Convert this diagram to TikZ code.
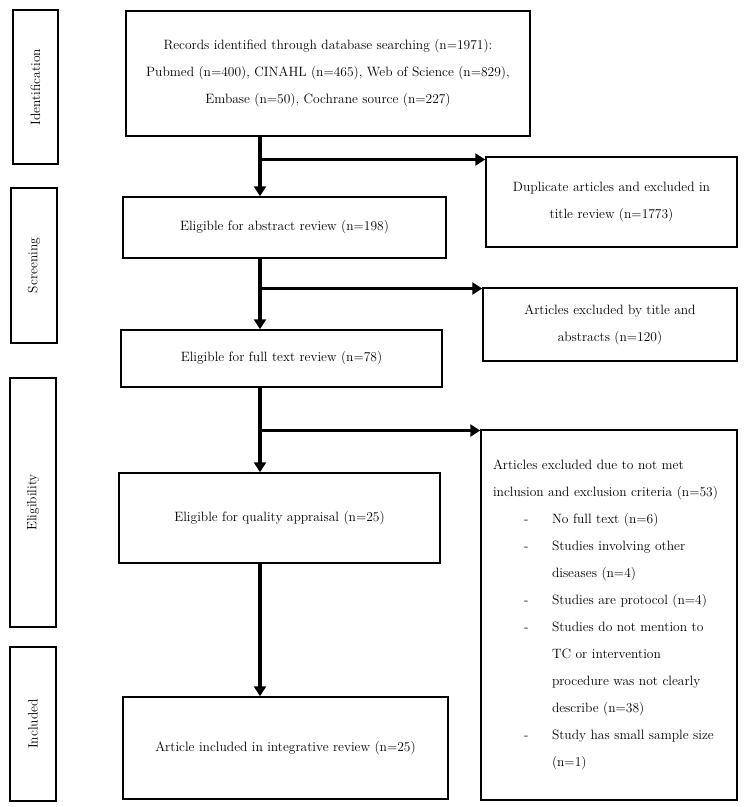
\documentclass[tikz,border=0pt]{standalone}
\usetikzlibrary{arrows.meta}
\begin{document}
\begin{tikzpicture}[x=1pt,y=1pt,
  box/.style={draw=black,line width=1.5pt,rectangle,inner sep=0pt,align=center,
    font=\fontsize{13.5}{27}\selectfont},
  stage/.style={draw=black,line width=1.5pt,rectangle,inner sep=0pt,
    font=\fontsize{13.5}{16}\selectfont},
  arr/.style={line width=3.6pt,-{Triangle[length=10pt,width=12pt]}}]
\useasboundingbox (0,0) rectangle (745,-807);
% stage labels
\node[stage,minimum width=45,minimum height=154] (idS) at (35.5,-87) {\rotatebox{90}{Identification}};
\node[stage,minimum width=46,minimum height=155] (scS) at (34,-265.5) {\rotatebox{90}{Screening}};
\node[stage,minimum width=46,minimum height=249] (elS) at (33,-502.5) {\rotatebox{90}{Eligibility}};
\node[stage,minimum width=46,minimum height=154] (inS) at (33,-724) {\rotatebox{90}{Included}};
% main column
\node[box,minimum width=404,minimum height=125] (rec) at (328,-73.5)
  {Records identified through database searching (n=1971):\\
   Pubmed (n=400), CINAHL (n=465), Web of Science (n=829),\\
   Embase (n=50), Cochrane source (n=227)};
\node[box,minimum width=323,minimum height=61] (abs) at (284.5,-227.5)
  {Eligible for abstract review (n=198)};
\node[box,minimum width=321,minimum height=57] (full) at (281.5,-358.5)
  {Eligible for full text review (n=78)};
\node[box,minimum width=321,minimum height=90] (qual) at (279.5,-518)
  {Eligible for quality appraisal (n=25)};
\node[box,minimum width=325,minimum height=102] (incl) at (285.5,-748)
  {Article included in integrative review (n=25)};
% exclusion column
\node[box,minimum width=251,minimum height=90] (dup) at (611.5,-202)
  {Duplicate articles and excluded in\\ title review (n=1773)};
\node[box,minimum width=254,minimum height=73] (tit) at (610,-324.5)
  {Articles excluded by title and\\ abstracts (n=120)};
\node[box,minimum width=256,minimum height=370,text width=232,inner xsep=12,align=left] (crit) at (609,-615)
  {Articles excluded due to not met\\
   inclusion and exclusion criteria (n=53)\\
   \hspace*{31pt}\makebox[28pt][l]{-}No full text (n=6)\\
   \hspace*{31pt}\makebox[28pt][l]{-}Studies involving other\\
   \hspace*{59pt}diseases (n=4)\\
   \hspace*{31pt}\makebox[28pt][l]{-}Studies are protocol (n=4)\\
   \hspace*{31pt}\makebox[28pt][l]{-}Studies do not mention to\\
   \hspace*{59pt}TC or intervention\\
   \hspace*{59pt}procedure was not clearly\\
   \hspace*{59pt}describe (n=38)\\
   \hspace*{31pt}\makebox[28pt][l]{-}Study has small sample size\\
   \hspace*{59pt}(n=1)};
% spine coordinates
\coordinate (sp) at (260,0);
\coordinate (b1) at (260,-159.5);
\coordinate (b2) at (260,-288.5);
\coordinate (b3) at (260,-430.5);
% connectors
\draw[arr] (rec.south -| sp) -- (abs.north -| sp);
\draw[arr] (b1) -- (b1 -| dup.west);
\draw[arr] (abs.south -| sp) -- (full.north -| sp);
\draw[arr] (b2) -- (b2 -| tit.west);
\draw[arr] (full.south -| sp) -- (qual.north -| sp);
\draw[arr] (b3) -- (b3 -| crit.west);
\draw[arr] (qual.south -| sp) -- (incl.north -| sp);
\end{tikzpicture}
\end{document}
